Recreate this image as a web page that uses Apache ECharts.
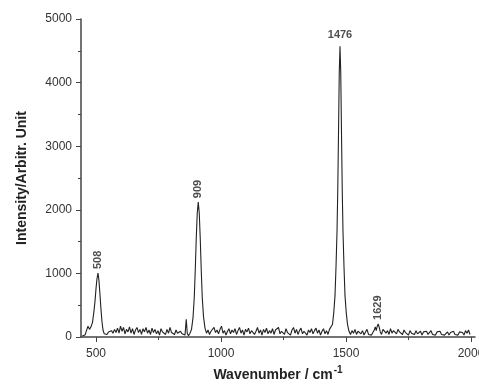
<!DOCTYPE html>
<html><head><meta charset="utf-8">
<script src="https://cdn.jsdelivr.net/npm/echarts@6/dist/echarts.min.js"></script>
<style>html,body{margin:0;padding:0;background:#fff}#c{width:479px;height:390px}</style>
</head><body><div id="c"></div>
<script>
// Raman spectrum: [wavenumber (cm-1), intensity]
const spectrum = [
[445,15],[450,40],[456,30],[462,60],[468,170],[474,120],[480,160],[486,230],[491,380],[496,560],
[500,760],[504,920],[508,1005],[512,880],[516,660],[520,430],[524,240],[528,110],[533,50],[538,70],
[544,40],[550,80],[556,50],[562,100],[568,60],[574,120],[580,70],[586,140],[592,60],[598,170],
[604,90],[610,150],[616,50],[622,120],[628,80],[634,160],[640,60],[646,130],[652,40],[658,110],
[664,150],[670,70],[676,120],[682,40],[688,130],[694,80],[700,150],[706,60],[712,110],[718,40],
[724,140],[730,70],[736,120],[742,50],[748,100],[754,30],[760,130],[766,80],[772,110],[778,40],
[784,120],[790,60],[796,150],[802,70],[808,100],[814,40],[820,110],[826,60],[832,30],[838,90],
[844,50],[850,70],[856,30],[861,280],[865,60],[870,20],[876,60],[882,120],[888,300],[893,620],
[897,1050],[901,1550],[905,1950],[909,2120],[913,1950],[917,1550],[921,1050],[925,620],[930,320],[936,140],
[942,60],[948,110],[954,40],[960,90],[966,60],[972,150],[978,70],[984,110],[990,50],[996,120],
[1002,170],[1008,60],[1014,100],[1020,30],[1026,90],[1032,130],[1038,50],[1044,110],[1050,70],[1056,130],
[1062,40],[1068,100],[1074,150],[1080,60],[1086,110],[1092,30],[1098,120],[1104,80],[1110,140],[1116,50],
[1122,100],[1128,130],[1134,40],[1140,90],[1146,150],[1152,60],[1158,110],[1164,30],[1170,120],[1176,70],
[1182,140],[1188,50],[1194,100],[1200,60],[1206,130],[1212,40],[1218,110],[1224,80],[1230,150],[1236,50],
[1242,90],[1248,120],[1254,40],[1260,130],[1266,70],[1272,100],[1278,30],[1284,110],[1290,150],[1296,60],
[1302,120],[1308,40],[1314,100],[1320,140],[1326,50],[1332,90],[1338,120],[1344,30],[1350,110],[1356,70],
[1362,130],[1368,50],[1374,100],[1380,140],[1386,60],[1392,110],[1398,30],[1404,90],[1410,130],[1416,50],
[1422,100],[1428,40],[1434,120],[1440,90],[1446,200],[1451,380],[1456,650],[1460,1100],[1464,1650],[1467,2300],
[1470,3200],[1473,4150],[1476,4570],[1479,4150],[1482,3200],[1485,2300],[1488,1650],[1492,1100],[1496,650],[1501,380],
[1506,200],[1512,90],[1518,40],[1524,100],[1530,60],[1536,120],[1542,40],[1548,90],[1554,110],[1560,50],
[1566,100],[1572,30],[1578,80],[1584,120],[1590,40],[1596,70],[1602,30],[1608,60],[1613,110],[1617,160],
[1621,100],[1625,170],[1629,205],[1633,150],[1637,80],[1642,40],[1648,120],[1654,150],[1660,60],[1666,100],
[1672,40],[1678,130],[1684,60],[1690,100],[1696,110],[1702,50],[1708,120],[1714,80],[1720,100],[1726,40],
[1732,110],[1738,70],[1744,90],[1750,30],[1756,100],[1762,60],[1768,80],[1774,40],[1780,100],[1786,50],
[1792,70],[1798,90],[1804,30],[1810,80],[1816,50],[1822,90],[1828,40],[1834,70],[1840,100],[1846,40],
[1852,60],[1858,30],[1864,80],[1870,50],[1876,90],[1882,40],[1888,70],[1894,30],[1900,60],[1906,80],
[1912,30],[1918,70],[1924,50],[1930,90],[1936,40],[1942,60],[1948,30],[1954,80],[1960,50],[1966,70],
[1972,30],[1978,100],[1984,60],[1990,110],[1996,40]
];
const peakPositions = [508, 909, 1476, 1629];
const peakHeights = [1005, 2120, 4570, 205];
const peakLabels = ['508', '909', '1476', '1629'];
const xTicks = [500, 1000, 1500, 2000];
const xMinorTicks = [750, 1250, 1750];

const axisColor = '#444';
const font = 'Liberation Sans, Arial, sans-serif';
const labelStyle = {color: '#333', fontSize: 12, fontFamily: font, formatter: v => String(v)};
const chart = echarts.init(document.getElementById('c'), null, {renderer: 'canvas'});
const peakData = peakPositions.map((p, i) => {
  const horiz = peakLabels[i] === '1476';
  return {
    value: [p, peakHeights[i]],
    label: horiz ? {rotate: 0, align: 'center', verticalAlign: 'bottom', distance: 6}
                 : {rotate: 90, align: 'left', verticalAlign: 'middle', distance: 4}
  };
});
chart.setOption({
  animation: false,
  grid: {left: 81, right: 4, top: 19, bottom: 53, outerBoundsMode: 'none', containLabel: false},
  xAxis: [{
    type: 'value', min: 440, max: 2016,
    name: '{a|Wavenumber / cm}{b|-1}', nameLocation: 'middle', nameGap: 28,
    nameTextStyle: {rich: {
      a: {fontSize: 14, fontWeight: 'bold', color: '#222', fontFamily: font},
      b: {fontSize: 10, fontWeight: 'bold', color: '#222', fontFamily: font, padding: [0, 0, 10, 1]}
    }},
    axisLine: {lineStyle: {color: axisColor, width: 1.5}},
    axisTick: {customValues: xTicks, length: 5, lineStyle: {color: axisColor, width: 1}},
    axisLabel: Object.assign({customValues: xTicks, margin: 11, hideOverlap: false}, labelStyle),
    splitLine: {show: false}
  }, {
    type: 'value', min: 440, max: 2016, position: 'bottom',
    axisLine: {show: false},
    axisTick: {customValues: xMinorTicks, length: 3, lineStyle: {color: axisColor, width: 1}},
    axisLabel: {show: false},
    splitLine: {show: false}
  }],
  yAxis: {
    type: 'value', min: 0, max: 5000, interval: 1000,
    name: 'Intensity/Arbitr. Unit', nameLocation: 'middle', nameGap: 52,
    nameTextStyle: {fontSize: 14, fontWeight: 'bold', color: '#222', fontFamily: font},
    axisLine: {show: true, lineStyle: {color: axisColor, width: 1.5}},
    axisTick: {show: true, length: 5, lineStyle: {color: axisColor, width: 1}},
    minorTick: {show: true, splitNumber: 2, length: 3, lineStyle: {color: axisColor, width: 1}},
    axisLabel: Object.assign({margin: 9}, labelStyle),
    splitLine: {show: false}
  },
  series: [{
    type: 'line', data: spectrum, showSymbol: false, symbol: 'none',
    lineStyle: {color: '#222', width: 1.1}
  }, {
    type: 'scatter', data: peakData, symbolSize: 0,
    label: {show: true, position: 'top', formatter: p => peakLabels[p.dataIndex],
      fontSize: 11, fontWeight: 'bold', color: '#222', fontFamily: font}
  }]
});
</script></body></html>
